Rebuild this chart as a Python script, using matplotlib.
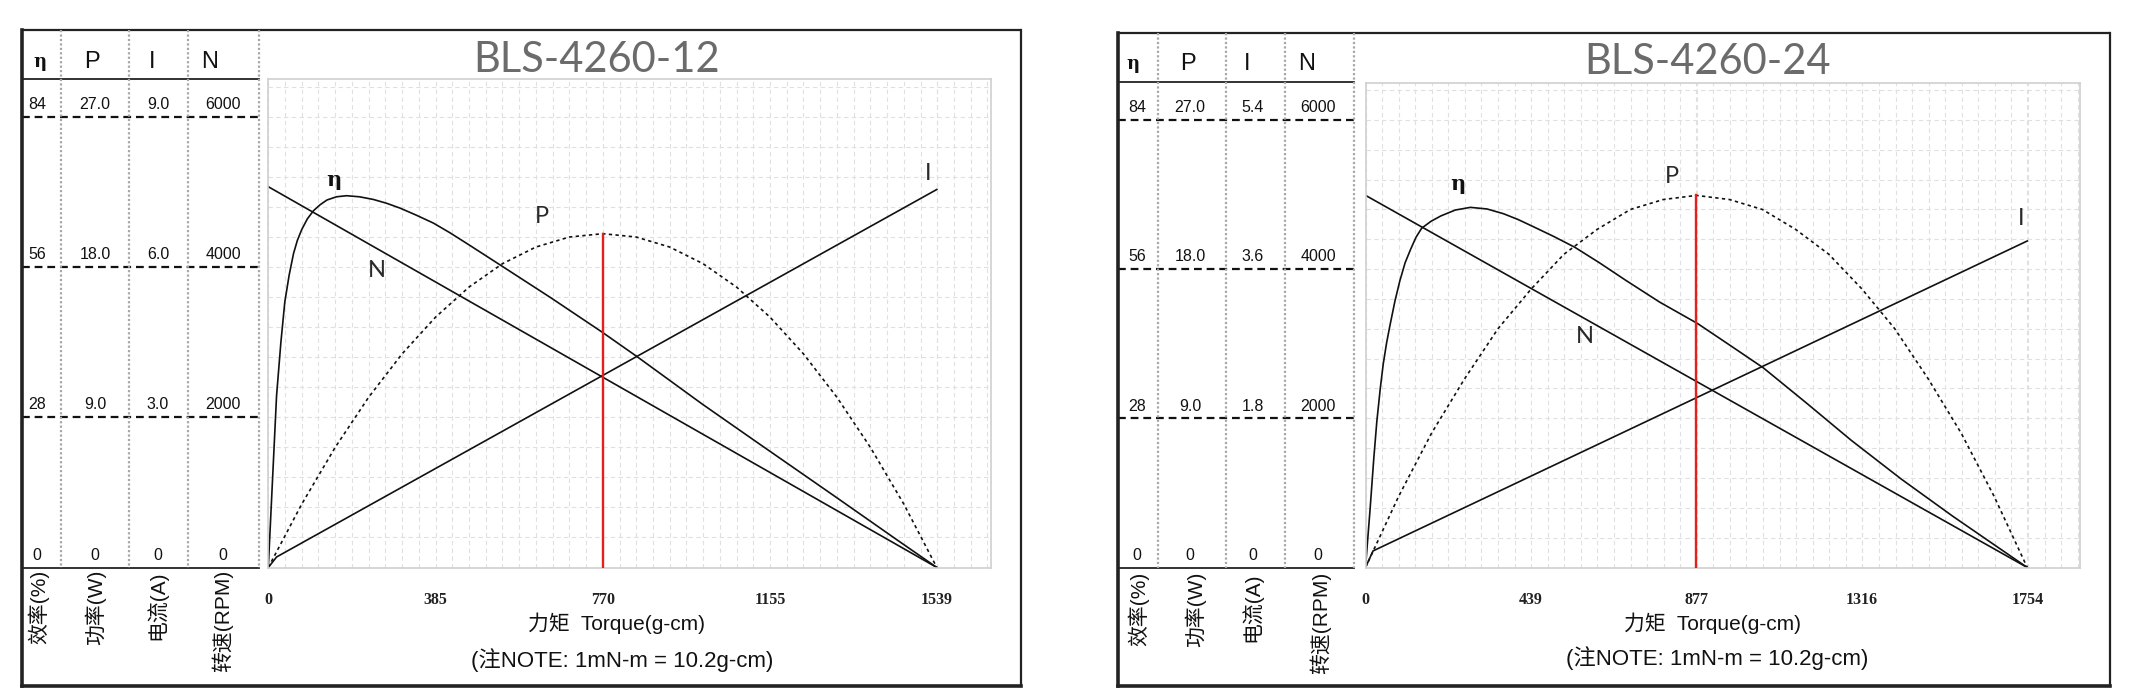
import numpy as np
import matplotlib
matplotlib.use("Agg")
import matplotlib.pyplot as plt

# ---------------- data ----------------
eta_scale = [0, 28, 56, 84]
speed_scale = [0, 2000, 4000, 6000]

# BLS-4260-12
title_12 = "BLS-4260-12"
torque_ticks_12 = [0, 385, 770, 1155, 1539]
power_scale_12 = [0, 9.0, 18.0, 27.0]
current_scale_12 = [0, 3.0, 6.0, 9.0]
eta_T_12 = [0, 19, 29, 38, 48, 58, 67, 77, 90, 104, 119, 135, 157, 180, 210, 242, 272, 303,
            340, 380, 418, 457, 526, 650, 768, 849, 1000, 1131, 1300, 1450, 1539]
eta_12 = [0, 32.0, 42.0, 49.5, 54.5, 58.5, 61.0, 63.0, 65.0, 66.5, 67.6, 68.5, 69.1, 69.3,
          69.1, 68.6, 67.9, 67.0, 65.7, 64.2, 62.4, 60.4, 56.8, 50.3, 43.9, 39.3, 30.4, 23.0,
          13.5, 5.0, 0]
power_T_12 = [0, 77, 154, 231, 308, 385, 462, 539, 616, 693, 770, 847, 924, 1001, 1078,
              1155, 1232, 1309, 1386, 1463, 1539]
power_12 = [0, 3.8, 7.2, 10.2, 12.8, 15.0, 16.8, 18.2, 19.2, 19.8, 20.0, 19.8, 19.2, 18.2,
            16.8, 15.0, 12.8, 10.2, 7.2, 3.8, 0]
current_T_12 = [0, 19, 1539]
current_12 = [0, 0.21, 7.55]
speed_T_12 = [0, 1539]
speed_12 = [5070, 0]

# BLS-4260-24
title_24 = "BLS-4260-24"
torque_ticks_24 = [0, 439, 877, 1316, 1754]
power_scale_24 = [0, 9.0, 18.0, 27.0]
current_scale_24 = [0, 1.8, 3.6, 5.4]
eta_T_24 = [0, 12, 22, 30, 39, 47, 56, 65, 78, 91, 105, 120, 134, 149, 174, 200, 238, 278,
            322, 366, 405, 447, 500, 555, 620, 690, 780, 880, 960, 1054, 1170, 1287, 1420,
            1557, 1754]
eta_24 = [0, 10.8, 20.5, 27.4, 33.5, 38.2, 42.2, 45.5, 50.0, 53.8, 57.2, 59.8, 62.0, 63.7,
          65.0, 66.0, 67.1, 67.6, 67.3, 66.4, 65.3, 63.9, 62.1, 60.1, 57.2, 53.9, 49.8, 45.8,
          42.0, 37.5, 30.8, 23.9, 16.6, 9.6, 0]
power_T_24 = [0, 88, 175, 263, 351, 439, 526, 614, 702, 789, 877, 965, 1052, 1140, 1228,
              1316, 1403, 1491, 1579, 1666, 1754]
power_24 = [0, 4.3, 8.1, 11.4, 14.4, 16.8, 18.9, 20.4, 21.6, 22.2, 22.45, 22.2, 21.6, 20.4,
            18.9, 16.8, 14.4, 11.4, 8.1, 4.3, 0]
current_T_24 = [0, 20, 1754]
current_24 = [0, 0.20, 3.94]
speed_T_24 = [0, 1754]
speed_24 = [4990, 0]

col_heads = ["η", "P", "I", "N"]
col_units = ["效率(%)", "功率(W)", "电流(A)", "转速(RPM)"]
xlabel_text = "力矩  Torque(g-cm)"
note_text = "(注NOTE: 1mN-m = 10.2g-cm)"

# ---------------- layout (pixels of the 2139x693 picture) ----------------
W, H = 2139.0, 693.0
fig = plt.figure(figsize=(W / 100, H / 100), dpi=100)

CJK = ["Liberation Sans", "Noto Sans CJK SC", "DejaVu Sans"]


def add_px_axes(x0, y0, x1, y1, **kw):
    return fig.add_axes([x0 / W, 1 - y1 / H, (x1 - x0) / W, (y1 - y0) / H], **kw)


def fmt(v):
    if v == 0:
        return "0"
    if isinstance(v, float):
        return "%.1f" % v
    return str(v)


panels = [
    dict(title=title_12, ticks=torque_ticks_12, pscale=power_scale_12, iscale=current_scale_12,
         eta=(eta_T_12, eta_12), pw=(power_T_12, power_12), cur=(current_T_12, current_12),
         spd=(speed_T_12, speed_12),
         box=(22, 30, 1021, 686), head_line=79.4, seps=[61, 129, 188, 259],
         plot=(268.3, 79.3, 990.7, 567.5), xmax=1663,
         title_xy=(597, 60), xlabel_xy=(617, 623), note_xy=(622, 660),
         head_x=[40, 92, 152, 210], head_y=62, col_x=[37, 95, 158, 223],
         rot_x=[39, 95, 157, 222], rot_y=570,
         lab=dict(eta=(150, 72.2), N=(250, 55.4), P=(630, 65.4), I=(1520, 73.5))),
    dict(title=title_24, ticks=torque_ticks_24, pscale=power_scale_24, iscale=current_scale_24,
         eta=(eta_T_24, eta_24), pw=(power_T_24, power_24), cur=(current_T_24, current_24),
         spd=(speed_T_24, speed_24),
         box=(1118, 33, 2110, 686), head_line=82, seps=[1158, 1226, 1285, 1354],
         plot=(1365.5, 82.7, 2079.7, 567.5), xmax=1893,
         title_xy=(1708, 62), xlabel_xy=(1713, 623), note_xy=(1717, 658),
         head_x=[1133, 1188, 1247, 1307], head_y=64, col_x=[1137, 1190, 1253, 1318],
         rot_x=[1139, 1195, 1252, 1320], rot_y=572,
         lab=dict(eta=(246, 72.0), N=(582, 43.3), P=(812, 73.3), I=(1739, 65.5))),
]

# overlay in pixel coordinates for frames and free text
ov = fig.add_axes([0, 0, 1, 1], zorder=5)
ov.set_xlim(0, W)
ov.set_ylim(H, 0)
ov.axis("off")

YMAX = 91
for pn in panels:
    x0, y0, x1, y1 = pn["box"]
    px0, py0, px1, py1 = pn["plot"]
    top_scale = eta_scale[-1]

    # outer frame
    ov.plot([x0, x1], [y0, y0], color="#222222", lw=1.6, solid_capstyle="butt")
    ov.plot([x1, x1], [y0, y1], color="#222222", lw=1.6)
    ov.plot([x0, x0], [y0, y1], color="#222222", lw=2.6)
    ov.plot([x0, x1], [y1, y1], color="#222222", lw=2.6)
    # table lines
    ov.plot([x0, pn["seps"][-1]], [pn["head_line"], pn["head_line"]], color="#222222", lw=1.3)
    ov.plot([x0, pn["seps"][-1]], [py1, py1], color="#222222", lw=1.3)
    for sx in pn["seps"]:
        ov.plot([sx, sx], [y0, py1], color="#a8a8a8", lw=1.6, ls=(0, (1, 1)))
    for hx, h in zip(pn["head_x"], col_heads):
        if h == "η":
            ov.text(hx, pn["head_y"], h, ha="center", va="center", fontsize=13,
                    fontweight="bold", family="DejaVu Serif", color="#111111")
        else:
            ov.text(hx, pn["head_y"], h, ha="center", va="center", fontsize=17,
                    family="Liberation Sans", color="#111111")
    for rx, u in zip(pn["rot_x"], col_units):
        ov.text(rx, pn["rot_y"], u, rotation=90, ha="center", va="top", fontsize=15,
                family=CJK, color="#111111")
    ov.text(pn["title_xy"][0], pn["title_xy"][1], pn["title"], ha="center", va="center",
            fontsize=30, family="Lato", color="#6b6b6b")
    ov.text(pn["xlabel_xy"][0], pn["xlabel_xy"][1], xlabel_text, ha="center", va="center",
            fontsize=15, family=CJK, color="#111111")
    ov.text(pn["note_xy"][0], pn["note_xy"][1], note_text, ha="center", va="center",
            fontsize=16, family=CJK, color="#111111")

    # table values sharing the vertical scale of the plot
    tab = add_px_axes(x0, py0, pn["seps"][-1], py1)
    tab.set_xlim(x0, pn["seps"][-1])
    tab.set_ylim(0, YMAX)
    tab.axis("off")
    cols = [eta_scale, pn["pscale"], pn["iscale"], speed_scale]
    for v in eta_scale[1:]:
        tab.axhline(v, color="#111111", lw=1.6, ls=(0, (3.5, 2.2)))
    for cx, col in zip(pn["col_x"], cols):
        for k, v in enumerate(col):
            tab.text(cx, eta_scale[k] + 0.9, fmt(v), ha="center", va="bottom", fontsize=11.5,
                     family="Liberation Sans", color="#111111")

    # the chart itself
    ax = add_px_axes(px0, py0, px1, py1)
    ax.set_facecolor("white")
    ax.set_xlim(0, pn["xmax"])
    ax.set_ylim(0, YMAX)
    ticks = pn["ticks"]
    ax.set_xticks(ticks)
    ax.set_xticklabels([str(t) for t in ticks], fontsize=11.5, family="Liberation Serif",
                       fontweight="bold", color="#222222")
    ax.set_xticks(np.arange(0, pn["xmax"], ticks[1] / 10.0), minor=True)
    ax.set_yticks([])
    ax.set_yticks(np.arange(0, YMAX, eta_scale[1] / 5.0), minor=True)
    ax.tick_params(which="both", length=0, pad=18)
    ax.grid(which="both", color="#e0e0e0", lw=0.8, ls=(0, (4, 3)))
    ax.set_axisbelow(True)
    for sp in ax.spines.values():
        sp.set_color("#cfcfcf")
        sp.set_linewidth(1.2)

    eT, ev = pn["eta"]
    ax.plot(eT, ev, color="#111111", lw=1.2)
    pT, pv = pn["pw"]
    pplot = np.array(pv) * top_scale / pn["pscale"][-1]
    ax.plot(pT, pplot, color="#111111", lw=1.2, ls=(0, (2, 2)))
    cT, cv = pn["cur"]
    ax.plot(cT, np.array(cv) * top_scale / pn["iscale"][-1], color="#111111", lw=1.2)
    sT, sv = pn["spd"]
    ax.plot(sT, np.array(sv) * top_scale / speed_scale[-1], color="#111111", lw=1.2)
    k = int(np.argmax(pplot))
    ax.plot([pT[k], pT[k]], [0, pplot[k]], color="#e3211c", lw=1.7, zorder=4)

    lab = pn["lab"]
    ax.text(*lab["eta"], "η", ha="center", va="center", fontsize=15, fontweight="bold",
            family="DejaVu Serif", color="#111111")
    for key in ["N", "P", "I"]:
        ax.text(*lab[key], key, ha="center", va="center", fontsize=17, family="Lato",
                color="#2a2a2a")

fig.savefig("out.png", dpi=100)
